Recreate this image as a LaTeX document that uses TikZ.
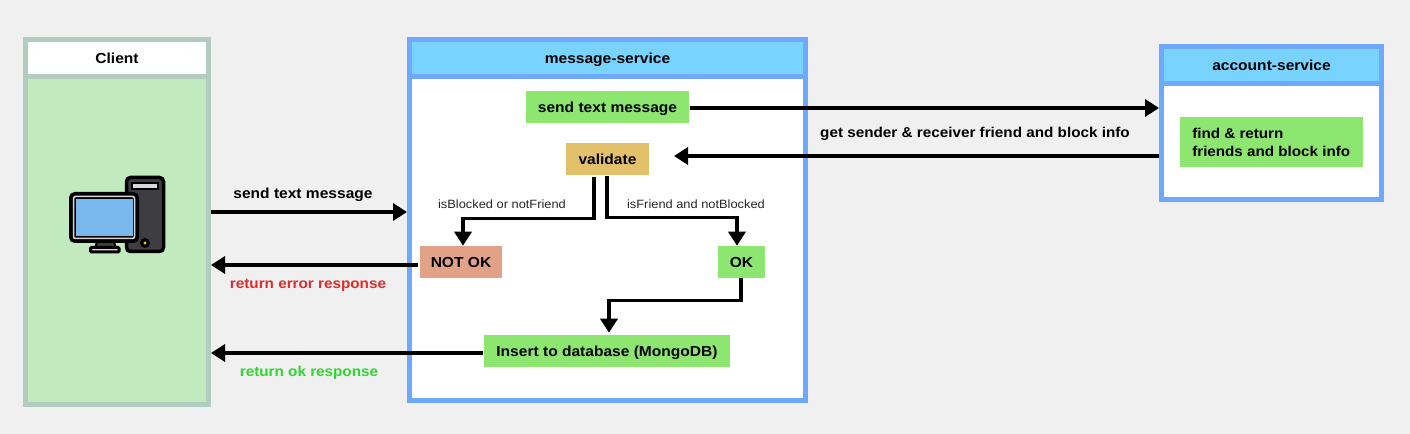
\documentclass[tikz,border=0pt]{standalone}
\usepackage{fontspec}
\setmainfont{Liberation Sans}[FakeStretch=1.07]
\usetikzlibrary{arrows.meta}
\definecolor{bgc}{HTML}{F0F0F0}
\definecolor{clientb}{HTML}{B2CDBF}
\definecolor{clientf}{HTML}{C1EABF}
\definecolor{blueb}{HTML}{6EA8FF}
\definecolor{headf}{HTML}{78D3FF}
\definecolor{greenf}{HTML}{8CE66F}
\definecolor{valf}{HTML}{E3C16A}
\definecolor{redf}{HTML}{E2A287}
\definecolor{redt}{HTML}{E02C2C}
\definecolor{greent}{HTML}{2ED62E}
\definecolor{towerc}{HTML}{3E3D42}
\definecolor{screenc}{HTML}{78B8EC}
\definecolor{rimc}{HTML}{D8D8D8}
\definecolor{yel}{HTML}{F5C518}
\newcommand{\pu}{0.75pt}
\tikzset{
  x=0.75pt,y=-0.75pt,
  panel/.style={draw=#1,line width=5*\pu,inner sep=0,fill=white},
  boxn/.style={inner sep=0,font=\fontsize{10.9pt}{13.5pt}\selectfont\bfseries,text=black,text height=10pt,text depth=1pt},
  lab/.style={boxn,font=\fontsize{10.7pt}{13.5pt}\selectfont\bfseries},
  small/.style={inner sep=0,font=\fontsize{9pt}{11pt}\selectfont,text=black!85,text height=7.5pt,text depth=1pt},
  arr/.style={line width=3.4*\pu,black,-{Triangle[length=14*\pu,width=17*\pu]}},
}
\begin{document}
\begin{tikzpicture}
\fill[bgc] (0,0) rectangle (1410,434);
\useasboundingbox (0,0) rectangle (1410,434);
% panels
\node[panel=clientb,minimum width=183*\pu,minimum height=365*\pu] (client) at (117,222) {};
\node[panel=blueb,minimum width=396*\pu,minimum height=361*\pu] (msgsvc) at (607.5,220) {};
\node[panel=blueb,minimum width=220*\pu,minimum height=153*\pu] (accsvc) at (1271.5,123) {};
% client header/body
\fill[clientf] (28,79) rectangle (206,402);
\fill[clientb] (28,74) rectangle (206,79);
\node[boxn,fill=white,minimum width=178*\pu,minimum height=32*\pu] (clienth) at (117,58) {Client};
% message header
\fill[blueb] (412,74) rectangle (803,79);
\node[boxn,fill=headf,minimum width=391*\pu,minimum height=32*\pu] (msgh) at (607.5,58) {message-service};
% account header
\fill[blueb] (1164,81) rectangle (1379,86);
\node[boxn,fill=headf,minimum width=215*\pu,minimum height=32*\pu] (acch) at (1271.5,65) {account-service};
% boxes
\node[boxn,fill=greenf,minimum width=163*\pu,minimum height=32*\pu] (sendmsg) at (607.5,107) {send text message};
\node[boxn,fill=valf,minimum width=83*\pu,minimum height=32*\pu] (validate) at (607.5,159) {validate};
\node[boxn,fill=redf,minimum width=82*\pu,minimum height=32*\pu] (notok) at (461,262) {NOT OK};
\node[boxn,fill=greenf,minimum width=47*\pu,minimum height=32*\pu] (okk) at (741.5,262) {OK};
\node[boxn,fill=greenf,minimum width=246*\pu,minimum height=32*\pu] (insert) at (607,351) {Insert to database (MongoDB)};
\fill[greenf] (1180,117) rectangle (1363,167);
\node[anchor=west,align=left,inner sep=0,font=\fontsize{10.65pt}{13.5pt}\selectfont\bfseries,text=black] (findbox) at (1192,142) {find \& return\\friends and block info};
% connectors
\draw[arr] ([shift={(1,1)}]sendmsg.east) -- ([shift={(0,-15)}]accsvc.west);
\coordinate (valin) at (674,156);
\draw[arr] ([shift={(0,33)}]accsvc.west) -- (valin);
\draw[arr] ([shift={(0,-10)}]client.east) -- ([shift={(0,-8)}]msgsvc.west);
\draw[arr] ([shift={(-2,3)}]notok.west) -- ([shift={(0,43)}]client.east);
\draw[arr] ([shift={(-1,2)}]insert.west) -- ([shift={(0,131)}]client.east);
\draw[arr] ([shift={(-13.5,2)}]validate.south) -- ++(0,41) -| ([shift={(2,0)}]notok.north);
\draw[arr] ([shift={(-0.5,1)}]validate.south) -- ++(0,41) -| ([shift={(-4.5,0)}]okk.north);
\draw[arr] ([shift={(-0.5,0)}]okk.south) -- ++(0,22) -| ([shift={(2,-2)}]insert.north);
% labels
\node[boxn] (l1) at (303,193) {send text message};
\node[lab] (l2) at (975,132) {get sender \& receiver friend and block info};
\node[lab,text=redt] (l3) at (308,283) {return error response};
\node[lab,text=greent] (l4) at (309,371) {return ok response};
\node[small] (l5) at (502,204) {isBlocked or notFriend};
\node[small] (l6) at (696,204) {isFriend and notBlocked};
% computer icon
\draw[black,line width=3.5*\pu,fill=towerc,rounded corners=4*\pu] (126.5,177.5) rectangle (163.5,251.5);
\fill[black] (131,182) rectangle (159,190);
\fill[rimc] (133,184) rectangle (157,188);
\fill[black] (145,243) circle (5);
\fill[yel] (145,243) circle (1.7);
\fill[towerc,draw=black,line width=2*\pu] (97,242) -- (114,242) -- (116,248) -- (95,248) -- cycle;
\draw[black,line width=3*\pu,fill=rimc,rounded corners=1*\pu] (90.5,247.5) rectangle (119,252);
\draw[black,line width=4*\pu,fill=black,rounded corners=4*\pu] (71,194) rectangle (137,241);
\draw[rimc,line width=1.5*\pu,rounded corners=2*\pu] (73.5,196.5) rectangle (134.5,238.5);
\fill[screenc] (76,199) rectangle (133,236);
\end{tikzpicture}
\end{document}
